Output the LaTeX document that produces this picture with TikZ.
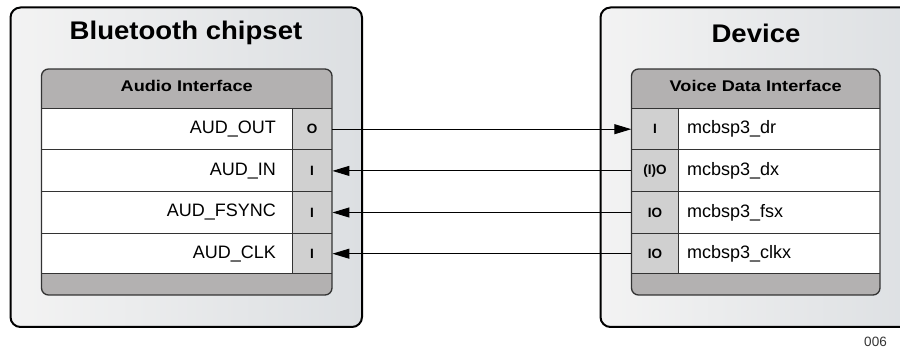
\documentclass[tikz,border=0pt]{standalone}
\usepackage{fontspec}
\setmainfont{Liberation Sans}
\usetikzlibrary{arrows.meta}
\definecolor{hdrgrey}{HTML}{B3B1B1}
\definecolor{pingrey}{HTML}{D0D0D0}
\definecolor{outerL}{HTML}{F3F3F3}
\definecolor{outerR}{HTML}{DCDFE2}
\definecolor{edgegrey}{HTML}{333333}
\tikzset{
  outerbox/.style={draw=black, line width=2pt, rounded corners=10pt, left color=outerL, right color=outerR},
  innerframe/.style={draw=edgegrey, line width=1.3pt, rounded corners=7pt},
  divider/.style={draw=edgegrey, line width=1pt},
  titletext/.style={font=\fontsize{25.5}{28}\selectfont\bfseries\addfontfeature{FakeStretch=1.08}, inner sep=0pt},
  hdrtext/.style={font=\fontsize{15.5}{18}\selectfont\bfseries\addfontfeature{FakeStretch=1.17}, inner sep=0pt},
  sigtext/.style={font=\fontsize{18}{20}\selectfont, inner sep=0pt},
  pinbox/.style={font=\fontsize{13.5}{15}\selectfont\bfseries, inner sep=0pt, minimum height=41.6pt},
  lpin/.style={pinbox, minimum width=40.5pt},
  rpin/.style={pinbox, minimum width=46.8pt},
  sig/.style={draw=black, line width=1pt},
  tip/.style={-{Triangle[length=17pt,width=10pt]}},
}
\begin{document}
\begin{tikzpicture}[x=1pt,y=-1pt]
\useasboundingbox (0,0) rectangle (900,352);
\clip (0,0) rectangle (900,352);
% outer boxes
\path[outerbox] (10.5,7.5) rectangle (362,327);
\path[outerbox] (600.5,7.5) rectangle (930,327);
\node[titletext] (t1) at (186,33) {Bluetooth chipset};
\node[titletext] (t2) at (756,33) {Device};
% left inner box
\begin{scope}
  \clip[rounded corners=7pt] (41.5,69) rectangle (332,295);
  \fill[hdrgrey] (41.5,69) rectangle (332,108.3);
  \fill[white] (41.5,108.3) rectangle (292,274);
  \fill[pingrey] (292,108.3) rectangle (332,274);
  \fill[hdrgrey] (41.5,274) rectangle (332,295);
\end{scope}
\foreach \yy in {108.3,150,191.7,233.3,274} {\path[divider] (41.5,\yy) -- (332,\yy);}
\path[divider] (292,108.3) -- (292,274);
\path[innerframe] (41.5,69) rectangle (332,295);
% right inner box
\begin{scope}
  \clip[rounded corners=7pt] (631.5,69) rectangle (880,295);
  \fill[hdrgrey] (631.5,69) rectangle (880,108.3);
  \fill[pingrey] (631.5,108.3) rectangle (678.3,274);
  \fill[white] (678.3,108.3) rectangle (880,274);
  \fill[hdrgrey] (631.5,274) rectangle (880,295);
\end{scope}
\foreach \yy in {108.3,150,191.7,233.3,274} {\path[divider] (631.5,\yy) -- (880,\yy);}
\path[divider] (678.3,108.3) -- (678.3,274);
\path[innerframe] (631.5,69) rectangle (880,295);
% headers
\node[hdrtext] (h1) at (186.7,85.5) {Audio Interface};
\node[hdrtext] (h2) at (755.7,85.5) {Voice Data Interface};
% left signals
\node[sigtext, anchor=east] (s1) at (276,129.2) {AUD\_OUT};
\node[sigtext, anchor=east] (s2) at (276,170.9) {AUD\_IN};
\node[sigtext, anchor=east] (s3) at (276,212.5) {AUD\_FSYNC};
\node[sigtext, anchor=east] (s4) at (276,253.7) {AUD\_CLK};
\node[lpin] (lp1) at (312,129.2) {O};
\node[lpin] (lp2) at (312,170.9) {I};
\node[lpin] (lp3) at (312,212.5) {I};
\node[lpin] (lp4) at (312,253.7) {I};
% right signals
\node[sigtext, anchor=west] (d1) at (687,129.2) {mcbsp3\_dr};
\node[sigtext, anchor=west] (d2) at (687,170.9) {mcbsp3\_dx};
\node[sigtext, anchor=west] (d3) at (687,212.5) {mcbsp3\_fsx};
\node[sigtext, anchor=west] (d4) at (687,253.7) {mcbsp3\_clkx};
\node[rpin] (rp1) at (654.9,129.2) {I};
\node[rpin] (rp2) at (654.9,170.9) {(I)O};
\node[rpin] (rp3) at (654.9,212.5) {IO};
\node[rpin] (rp4) at (654.9,253.7) {IO};
% connectors
\draw[sig, tip] (lp1.east) -- (rp1.west);
\draw[sig, tip] (rp2.west) -- (lp2.east);
\draw[sig, tip] (rp3.west) -- (lp3.east);
\draw[sig, tip] (rp4.west) -- (lp4.east);
% figure number
\node[font=\fontsize{13.5}{15}\selectfont, text=black!80, inner sep=0pt] (fig) at (875.5,342) {006};
\end{tikzpicture}
\end{document}
